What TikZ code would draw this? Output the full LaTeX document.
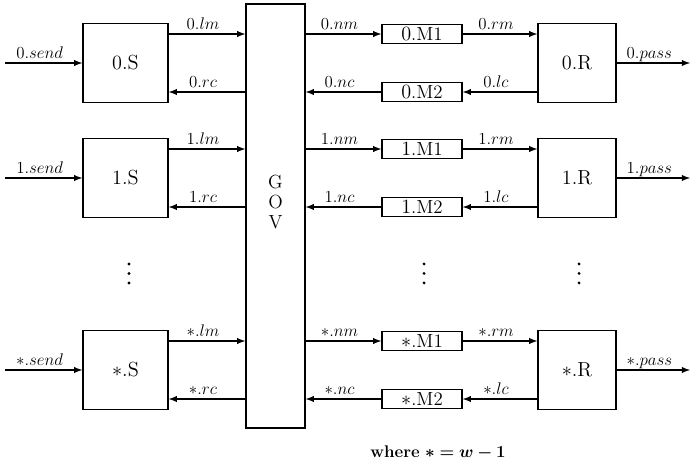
\documentclass[tikz,border=0pt]{standalone}
\usepackage{amsmath, amssymb, bm}
\usepackage{tikz}

\begin{document}
\begin{tikzpicture}[>=latex, every node/.style={font=\fontsize{13}{15}\selectfont},
    box/.style={draw, line width=1pt, inner sep=0pt, font=\fontsize{13.5}{15}\selectfont},
    wire/.style={->, line width=1pt},
    lbl/.style={midway, anchor=base, inner sep=0pt, xshift=-0.1cm, yshift=3.5pt}]
    % Keep the whole picture (and its margins) in view
    \useasboundingbox (0,0) rectangle (17.275,11.825);

    % Middle: the GOV box shared by all rows
    \node[box, minimum width=1.475cm, minimum height=10.6cm] (gov) at (6.8875,6.425) {};
    \node[font=\fontsize{13.5}{14.2}\selectfont, align=center] (govtxt) at (6.8875,6.775) {G\\O\\V};

    % One row per sender/receiver pair
    \foreach \n/\i/\yy in {a/0/10.25, b/1/7.375, c/*/2.575} {
      \node[box, minimum width=2.125cm, minimum height=1.975cm, font=\fontsize{14.5}{16}\selectfont] (S\n) at (3.1375,\yy) {$\i$.S};
      \node[box, minimum width=1.95cm, minimum height=1.975cm, font=\fontsize{14.5}{16}\selectfont] (R\n) at (14.425,\yy) {$\i$.R};
      \node[box, minimum width=2cm, minimum height=0.475cm] (Mt\n) at (10.55,\yy+0.725) {$\i$.M1};
      \node[box, minimum width=2cm, minimum height=0.475cm] (Mb\n) at (10.55,\yy-0.725) {$\i$.M2};
      \coordinate (in\n) at (0.125,\yy);
      \coordinate (out\n) at (17.25,\yy);

      \draw[wire] (in\n) -- (S\n) node[lbl] {$\i.send$};
      \draw[wire] (S\n.east |- Mt\n) -- (gov.west |- Mt\n) node[lbl] {$\i.lm$};
      \draw[wire] (gov.west |- Mb\n) -- (S\n.east |- Mb\n) node[lbl] {$\i.rc$};
      \draw[wire] (gov.east |- Mt\n) -- (Mt\n) node[lbl] {$\i.nm$};
      \draw[wire] (Mb\n) -- (gov.east |- Mb\n) node[lbl] {$\i.nc$};
      \draw[wire] (Mt\n) -- (R\n.west |- Mt\n) node[lbl] {$\i.rm$};
      \draw[wire] (R\n.west |- Mb\n) -- (Mb\n) node[lbl] {$\i.lc$};
      \draw[wire] (R\n) -- (out\n) node[lbl] {$\i.pass$};
    }

    % Vertical dots between row 1 and the last row
    \foreach \x in {3.225, 10.6, 14.475}
      \foreach \dy in {-0.2375, 0, 0.2375}
        \fill (\x,4.99+\dy) circle (0.04);

    % Footnote
    \node[font=\fontsize{12}{14}\selectfont] (note) at (10.95,0.5) {\textbf{where} $\boldsymbol{* = w - 1}$};
\end{tikzpicture}
\end{document}
